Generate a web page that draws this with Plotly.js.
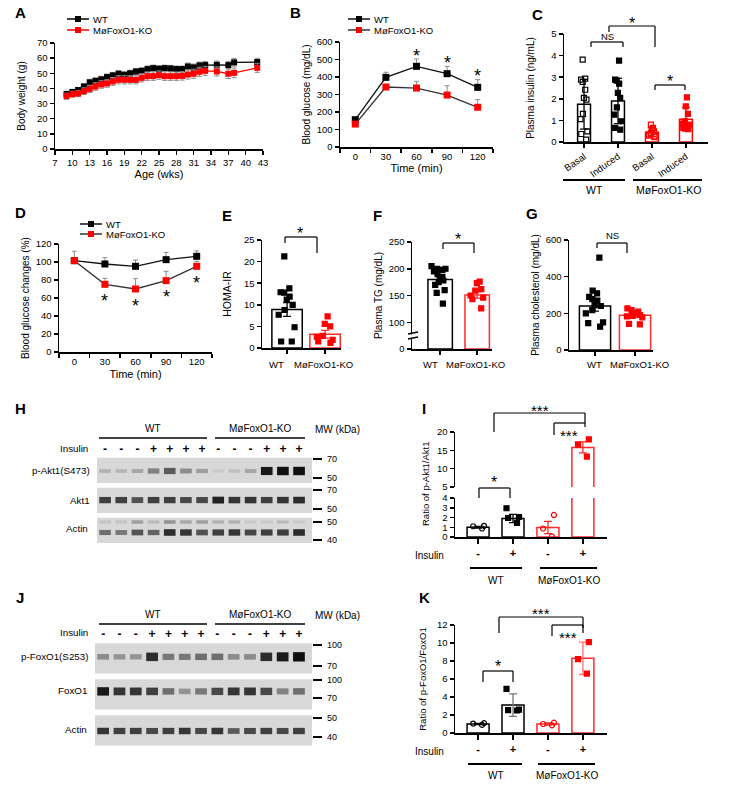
<!DOCTYPE html>
<html><head><meta charset="utf-8">
<script src="https://cdn.plot.ly/plotly-3.0.1.min.js"></script>
<style>html,body{margin:0;padding:0;background:#fff}#chart{width:729px;height:791px}</style>
</head><body><div id="chart"></div>
<script>
// ---------------- DATA ----------------
// A: body weight
const ageWeeks=[9,10,11,12,13,14,15,16,17,18,19,20,21,22,23,24,25,26,27,28,29,30,31,32,33,35,37,38,42];
const bwWT=[36.4,37.7,39,41.3,44,45,46,47.5,48.6,49.7,49,50,51.2,51.6,52.8,53.4,53,53.4,53.2,52.8,52.8,54.5,53.9,55.2,55.4,55.6,55.4,57.2,57.4];
const bwWTErr=[1.5,1.5,1.6,1.8,2,2,2,2,2,2,2,2,2,2,2,2,2,2,2,2,2,2.2,2.2,2.2,2.4,2.5,2.5,2.5,2.5];
const bwKO=[34.9,36.2,36.6,38.2,39.7,41.3,42.6,43.3,44.6,45.7,45.7,45.7,45.7,47,48.1,48.1,48.8,48.1,48.1,48.1,48.3,49.2,49.7,51,51.6,51.2,49.7,50.3,53.6];
const bwKOErr=[2,2,2,2.2,2.4,2.5,2.5,2.5,2.6,2.7,2.7,2.7,2.7,2.7,2.8,2.8,2.8,2.8,2.8,2.8,2.8,3,3,3,3,3,3.2,3.2,3];
// B: glucose tolerance
const timeMin=[0,30,60,90,120];
const gttWT=[156,398,461,419,341];
const gttWTErr=[0,29,42,42,44];
const gttKO=[131,343,337,297,227];
const gttKOErr=[0,10,38,53,44];
const gttStarTimes=[60,90,120];
// D: insulin tolerance
const ittWT=[101.5,97.8,95.2,102.6,106.3];
const ittWTErr=[10.4,7,7,8,6];
const ittKO=[101.5,75.2,70,79.3,95.2];
const ittKOErr=[0,6.7,11.5,10.4,5.5];
const ittStarTimes=[30,60,90,120];
// C: plasma insulin
const insCats=['WT Basal','WT Induced','KO Basal','KO Induced'];
const insTickText=['Basal','Induced','Basal','Induced'];
const insWTBasal=[3.81,2.93,2.89,2.78,2.42,2.04,1.96,1.30,1.06,0.49,0.37,0.11];
const insWTInduced=[3.77,2.89,2.84,2.70,2.27,2.04,1.60,1.27,0.96,0.65,0.57];
const insKOBasal=[0.80,0.65,0.60,0.49,0.42,0.34,0.29,0.29,0.23];
const insKOInduced=[2.07,1.65,1.30,0.96,0.85,0.80,0.65,0.60];
const insMean=[1.75,1.9,0.45,1.05];
const insSD=[1.15,1.05,0.2,0.55];
// E/F/G
const groupCats=['WT','MøFoxO1-KO'];
const homaWT=[21.2,13.8,12.9,12.8,11.9,11.2,10,8.8,7.7,4.8,1.5,1.5];
const homaKO=[7.3,5.6,5,2.8,2.6,1.9,1.5,1.2];
const homaMean=[8.9,3.2];
const homaSEM=[1.6,0.9];
const tgWT=[205,200,200,198,195,190,185,183,178,175,170,160,155,135];
const tgKO=[176,173,162,159,150,146,143,126];
const tgMean=[180,151];
const tgSEM=[5,6];
const tgTickLabels=[0,100,150,200,250];
const tgBreakShift=50; // broken axis: 0..100 squeezed
const cholWT=[504,324,309,290,278,270,245,240,218,200,151,147,127];
const cholKO=[227,218,209,200,190,186,183,178,142,140];
const cholMean=[240,190];
const cholSEM=[28,10];
// I/K ratios
const ratioCats=['WT-','WT+','KO-','KO+'];
const ratioSigns=['-','+','-','+'];
const aktWTm=[0.87,1.15,1.1], aktWTp=[2.95,2.05,1.95,1.45], aktKOm=[2.26,0.87,0.07], aktKOp=[18.0,16.6,13.3];
const aktMean=[1.0,1.9,0.97,15.8], aktSEM=[0.08,0.42,0.63,1.5];
const foxWTm=[0.9,1.1,1.05], foxWTp=[4.9,2.6,2.55,2.5], foxKOm=[0.85,1.15,1.0], foxKOp=[10.1,8.2,6.6];
const foxMean=[1.0,3.1,1.0,8.3], foxSD=[0.08,1.25,0.13,1.8];
// Blots (band intensity 0..1 per lane)
const lanes=[1,2,3,4,5,6,7,8,9,10,11,12,13];
const insulinSigns=['-','-','-','+','+','+','+','-','-','-','+','+','+'];
const bandPAkt=[0.15,0.12,0.2,0.4,0.6,0.35,0.25,0.02,0.08,0.2,0.95,1,1];
const bandAkt=[0.75,0.75,0.65,0.75,0.75,0.7,0.7,0.9,0.8,0.8,0.75,0.8,0.85];
const bandActinH=[0.5,0.45,0.65,0.55,0.85,0.8,0.65,0.75,0.8,0.7,0.75,0.75,0.85];
const bandActinHUpper=[0.05,0.05,0.25,0.1,0.3,0.2,0.25,0.15,0.15,0.02,0.02,0.1,0.02];
const bandPFox=[0.35,0.3,0.3,0.85,0.45,0.45,0.5,0.5,0.35,0.35,0.85,0.95,1];
const bandFox=[0.95,0.8,0.8,0.75,0.5,0.3,0.45,0.7,0.8,0.8,0.7,0.4,0.5];
const bandActinJ=[0.8,0.75,0.75,0.7,0.75,0.8,0.7,0.8,0.6,0.7,0.75,0.7,0.75];

// ---------------- HELPERS ----------------
const W=729,H=791;
const X=p=>p/W, Y=p=>1-p/H;
const dx=(a,b)=>[a/W,b/W], dy=(t,b)=>[1-b/H,1-t/H];
const RED='#ff0000', RED2='#ff2a2a', BLK='#000000', GRY='#8c8c8c';
const FONT='Arial, "Liberation Sans", sans-serif';
const shapes=[], ann=[], traces=[];

function ax(o){return Object.assign({showgrid:false,zeroline:false,showline:true,linecolor:'#000',linewidth:1.5,
  ticks:'outside',ticklen:4,tickwidth:1.5,tickcolor:'#000',tickfont:{size:9.5,family:FONT,color:'#000'},fixedrange:true},o);}
function ttl(t,s,so){const o={text:t,font:{size:s||10,family:FONT,color:'#000'}}; if(so!=null) o.standoff=so; return o;}
function line(x0,y0,x1,y1,w,c){shapes.push({type:'line',xref:'paper',yref:'paper',x0:X(x0),y0:Y(y0),x1:X(x1),y1:Y(y1),line:{color:c||'#000',width:w||1.2}});}
function rect(x0,y0,x1,y1,fill){shapes.push({type:'rect',xref:'paper',yref:'paper',x0:X(x0),y0:Y(y0),x1:X(x1),y1:Y(y1),fillcolor:fill,line:{width:0}});}
function bracket(xl,xr,yt,yl,yr){line(xl,yl,xl,yt);line(xl,yt,xr,yt);line(xr,yt,xr,yr);}
function text(x,y,t,size,anchor,opt){ann.push(Object.assign({xref:'paper',yref:'paper',x:X(x),y:Y(y),text:t,showarrow:false,
  xanchor:anchor||'center',yanchor:'middle',font:{size:size||10,family:FONT,color:'#000'}},opt||{}));}
function star(x,y,t,size){text(x,y,t||'*',size||16,'center',{yshift:-4});}
function legendEntry(x0,y,mcolor,lcolor,label){line(x0,y,x0+22,y,1.5,lcolor);rect(x0+8,y-3,x0+14,y+3,mcolor);text(x0+24,y,label,9.5,'left');}

function lineTrace(x,y,err,errMinus,mcolor,lcolor,xa,ya,msize){
  return {type:'scatter',mode:'lines+markers',x,y,xaxis:xa,yaxis:ya,
    line:{color:lcolor,width:1.3},marker:{symbol:'square',size:msize||6,color:mcolor},
    error_y:{type:'data',array:err,arrayminus:errMinus,symmetric:!errMinus,color:GRY,thickness:1,width:2.5},
    hoverinfo:'skip',cliponaxis:false};
}
function barTrace(cats,vals,err,color,xa,ya,width,errColor){
  return {type:'bar',x:cats,y:vals,xaxis:xa,yaxis:ya,width:width,
    marker:{color:'rgba(255,255,255,0)',line:{color:color,width:1.5}},
    error_y:err?{type:'data',array:err,color:errColor||color,thickness:1.3,width:4}:{visible:false},hoverinfo:'skip'};
}
function dots(cat,vals,xa,ya,symbol,color,width,jit){
  return {type:'box',x:vals.map(()=>cat),y:vals,xaxis:xa,yaxis:ya,boxpoints:'all',jitter:jit==null?0.8:jit,pointpos:0,width:width,
    fillcolor:'rgba(0,0,0,0)',line:{color:'rgba(0,0,0,0)',width:0},
    marker:{symbol:symbol,size:5,color:color,line:{color:color,width:1.2}},hoverinfo:'skip',showlegend:false};
}

// ---------------- A ----------------
traces.push(lineTrace(ageWeeks,bwWT,bwWTErr,null,BLK,BLK,'x','y',6));
traces.push(lineTrace(ageWeeks,bwKO,bwKOErr,null,RED,RED,'x','y',6));
legendEntry(67,19,BLK,BLK,'WT');
legendEntry(67,30,RED,RED,'MøFoxO1-KO');
// ---------------- B ----------------
traces.push(lineTrace(timeMin,gttWT,gttWTErr,timeMin.map(()=>0),BLK,'#111','x2','y2',7));
traces.push(lineTrace(timeMin,gttKO,gttKOErr,timeMin.map(()=>0),RED,'#333','x2','y2',7));
legendEntry(348,19,BLK,'#111','WT');
legendEntry(348,30,RED,'#333','MøFoxO1-KO');
gttStarTimes.forEach(t=>{const i=timeMin.indexOf(t);
  ann.push({xref:'x2',yref:'y2',x:t,y:gttWT[i]+gttWTErr[i]+42,text:'*',showarrow:false,yshift:-4,font:{size:18,family:FONT,color:'#000'}});});
// ---------------- D ----------------
traces.push(lineTrace(timeMin,ittWT,ittWTErr,timeMin.map(()=>0),BLK,'#111','x4','y4',7));
traces.push(lineTrace(timeMin,ittKO,ittKOErr,timeMin.map(()=>0),RED,'#333','x4','y4',7));
legendEntry(80,224,BLK,'#111','WT');
legendEntry(80,234,RED,'#333','MøFoxO1-KO');
ittStarTimes.forEach(t=>{const i=timeMin.indexOf(t);
  ann.push({xref:'x4',yref:'y4',x:t,y:ittKO[i]-14,text:'*',showarrow:false,yshift:-4,font:{size:18,family:FONT,color:'#000'}});});
// ---------------- C ----------------
traces.push(barTrace(insCats.slice(0,2),insMean.slice(0,2),insSD.slice(0,2),BLK,'x3','y3',0.38));
traces.push(barTrace(insCats.slice(2),insMean.slice(2),insSD.slice(2),RED,'x3','y3',0.38));
traces.push(dots(insCats[0],insWTBasal,'x3','y3','square-open',BLK,0.34));
traces.push(dots(insCats[1],insWTInduced,'x3','y3','square',BLK,0.34));
traces.push(dots(insCats[2],insKOBasal,'x3','y3','square-open',RED,0.34));
traces.push(dots(insCats[3],insKOInduced,'x3','y3','square',RED,0.34));
bracket(591,623,42,47,47); text(607,36,'NS',9.5);
bracket(609,655,26,32,47); star(632,20);
bracket(655,685,85,90,90); star(670,78);
line(563,180,625,180,2); line(633,180,702,180,2);
text(594,190,'WT',10.5); text(668,190,'MøFoxO1-KO',10.5);
// ---------------- E ----------------
traces.push(barTrace([groupCats[0]],[homaMean[0]],[homaSEM[0]],BLK,'x5','y5',0.8));
traces.push(barTrace([groupCats[1]],[homaMean[1]],[homaSEM[1]],RED2,'x5','y5',0.8));
traces.push(dots(groupCats[0],homaWT,'x5','y5','square',BLK,0.7));
traces.push(dots(groupCats[1],homaKO,'x5','y5','square',RED,0.7));
bracket(285,317,237,243,253); star(300,229);
text(276,364,groupCats[0],9.5); text(323,364,groupCats[1],9.5);
// ---------------- F (broken axis) ----------------
const tgY=v=>v-tgBreakShift;
traces.push(barTrace([groupCats[0]],[tgY(tgMean[0])],[tgSEM[0]],BLK,'x6','y6',0.66));
traces.push(barTrace([groupCats[1]],[tgY(tgMean[1])],[tgSEM[1]],RED2,'x6','y6',0.66));
traces.push(dots(groupCats[0],tgWT.map(tgY),'x6','y6','square',BLK,0.6));
traces.push(dots(groupCats[1],tgKO.map(tgY),'x6','y6','square',RED,0.6));
bracket(443,474,243,249,253); star(458,235);
rect(409,334.5,416,337.5,'#fff');
line(408,334,418,332,1.3); line(408,339,418,337,1.3);
text(430,364,groupCats[0],9.5); text(475,364,groupCats[1],9.5);
// ---------------- G ----------------
traces.push(barTrace([groupCats[0]],[cholMean[0]],[cholSEM[0]],BLK,'x7','y7',0.78));
traces.push(barTrace([groupCats[1]],[cholMean[1]],[cholSEM[1]],RED2,'x7','y7',0.78));
traces.push(dots(groupCats[0],cholWT,'x7','y7','square',BLK,0.7));
traces.push(dots(groupCats[1],cholKO,'x7','y7','square',RED,0.7));
bracket(597,627,243,248,253); text(612,235,'NS',9.5);
text(594,364,groupCats[0],9.5); text(639,364,groupCats[1],9.5);
// ---------------- H / J blots ----------------
const gray=v=>{const g=Math.round(205-190*v);return 'rgb('+g+','+g+','+g+')';};
function blot(xa,ya,rows){
  rows.forEach((r,i)=>{
    if(r.bg) traces.push({type:'bar',x:[7.15],y:[0.84],base:[i+0.06],width:[13.3],xaxis:xa,yaxis:ya,marker:{color:'#d8d8d8'},hoverinfo:'skip'});
    const h=r.vals.map(v=>r.h0+r.h1*v);
    traces.push({type:'bar',x:lanes,y:h,base:h.map(hh=>i+r.pos-hh/2),width:0.72,xaxis:xa,yaxis:ya,
      marker:{color:r.vals.map(gray)},hoverinfo:'skip'});
  });
}
blot('x8','y8',[
  {vals:bandPAkt,pos:0.5,h0:0.1,h1:0.18,bg:true},
  {vals:bandAkt,pos:0.47,h0:0.12,h1:0.12,bg:true},
  {vals:bandActinH,pos:0.55,h0:0.1,h1:0.14,bg:true}]);
blot('x8','y8',[{vals:[],pos:0,h0:0,h1:0},{vals:[],pos:0,h0:0,h1:0},{vals:bandActinHUpper,pos:0.2,h0:0.1,h1:0.06}]);
blot('x9','y9',[
  {vals:bandPFox,pos:0.44,h0:0.1,h1:0.16,bg:true},
  {vals:bandFox,pos:0.4,h0:0.12,h1:0.12,bg:true},
  {vals:bandActinJ,pos:0.5,h0:0.1,h1:0.1,bg:true}]);
function blotText(y0,rowsLab,mw){
  text(153,y0,'WT',10); text(260,y0,'MøFoxO1-KO',10); text(313,y0+1,'MW (kDa)',10,'left');
  line(99,y0+10,207,y0+10,1.5); line(215,y0+10,305,y0+10,1.5);
  rowsLab.forEach(r=>text(r[2],r[1],r[0],9.8,'right'));
  mw.forEach(m=>{line(313,m[1],322,m[1],2); text(325,m[1],m[0],9,'left');});
}
blotText(428,[['p-Akt1(S473)',470,92],['Akt1',500,92],['Actin',528,90],['Insulin',448,90]],
  [['70',459],['50',478],['70',490],['50',509],['50',522],['40',540]]);
blotText(614,[['p-FoxO1(S253)',656,91],['FoxO1',690,89],['Actin',729,89],['Insulin',632,90]],
  [['100',645],['70',666],['100',680],['70',698],['50',718],['40',737]]);
// ---------------- I (broken) ----------------
traces.push(barTrace(ratioCats.slice(0,2),aktMean.slice(0,2),aktSEM.slice(0,2),BLK,'x10','y10',0.63));
traces.push(barTrace([ratioCats[2]],[aktMean[2]],[aktSEM[2]],RED2,'x10','y10',0.63));
traces.push(barTrace([ratioCats[3]],[aktMean[3]],null,RED2,'x10','y10',0.63));
traces.push(barTrace([ratioCats[3]],[aktMean[3]],[aktSEM[3]],RED2,'x10','y11',0.63));
traces.push(dots(ratioCats[0],aktWTm,'x10','y10','circle-open',BLK,0.55));
traces.push(dots(ratioCats[1],aktWTp,'x10','y10','square',BLK,0.55));
traces.push(dots(ratioCats[2],aktKOm,'x10','y10','circle-open',RED,0.55));
traces.push(dots(ratioCats[3],aktKOp,'x10','y11','square',RED,0.55));
bracket(479,510,488,498,498); star(494,478);
bracket(554,585,423,435,427); star(569,431,'***',15);
bracket(494,585,413,432,423); star(540,406,'***',15);
line(470,568,522,568,2); line(540,568,597,568,2);
text(496,580,'WT',10); text(569,580,'MøFoxO1-KO',10);
text(446,555,'Insulin',10,'right');
text(425,484,'Ratio of p-Akt1/Akt1',9.5,'center',{textangle:-90});
// ---------------- K ----------------
traces.push(barTrace(ratioCats.slice(0,1),foxMean.slice(0,1),foxSD.slice(0,1),BLK,'x11','y12',0.63));
traces.push(barTrace([ratioCats[1]],[foxMean[1]],[foxSD[1]],BLK,'x11','y12',0.63,'#777'));
traces.push(barTrace([ratioCats[2]],[foxMean[2]],[foxSD[2]],RED2,'x11','y12',0.63));
traces.push(barTrace([ratioCats[3]],[foxMean[3]],[foxSD[3]],RED2,'x11','y12',0.63,'#ff7070'));
traces.push(dots(ratioCats[0],foxWTm,'x11','y12','circle-open',BLK,0.55));
traces.push(dots(ratioCats[1],foxWTp,'x11','y12','square',BLK,0.55));
traces.push(dots(ratioCats[2],foxKOm,'x11','y12','circle-open',RED,0.55));
traces.push(dots(ratioCats[3],foxKOp,'x11','y12','square',RED,0.55));
bracket(483,513,671,682,682); star(498,662);
bracket(552,583,625,636,633); star(568,633,'***',15);
bracket(499,583,617,633,628); star(541,609,'***',15);
line(468,764,522,764,2); line(538,764,595,764,2);
text(496,775,'WT',10); text(567,775,'MøFoxO1-KO',10);
text(446,751,'Insulin',10,'right');
// ---------------- panel letters ----------------
[['A',20,13],['B',295,13],['C',537,14],['D',20,212],['E',227,215],['F',377,215],['G',532,213],
 ['H',20,408],['I',424,408],['J',20,597],['K',424,597]].forEach(l=>text(l[1],l[2],'<b>'+l[0]+'</b>',15));

// ---------------- LAYOUT ----------------
const signTxt=s=>'<b>'+s+'</b>';
const layout={width:W,height:H,margin:{l:0,r:0,t:0,b:0},paper_bgcolor:'#fff',plot_bgcolor:'rgba(0,0,0,0)',
  showlegend:false,barmode:'overlay',boxmode:'overlay',font:{family:FONT,color:'#000'},
  xaxis:ax({domain:dx(55,263),anchor:'y',range:[7,43],tick0:7,dtick:3,title:ttl('Age (wks)',11,2)}),
  yaxis:ax({domain:dy(43,149),anchor:'x',range:[0,70],dtick:10,title:ttl('Body weight (g)',10)}),
  xaxis2:ax({domain:dx(340,493),anchor:'y2',range:[-15,135],tickmode:'array',tickvals:timeMin,ticks:'',
    minor:{tickmode:'array',tickvals:[-15,15,45,75,105,135],ticks:'outside',ticklen:4,tickwidth:1.5,tickcolor:'#000'},
    title:ttl('Time (min)',11,2)}),
  yaxis2:ax({domain:dy(42,147),anchor:'x2',range:[0,600],dtick:100,title:ttl('Blood glucose (mg/dL)',10)}),
  xaxis3:ax({domain:dx(564,708),anchor:'y3',type:'category',categoryorder:'array',categoryarray:insCats,range:[-0.59,3.65],
    tickmode:'array',tickvals:insCats,ticktext:insTickText,tickangle:-35}),
  yaxis3:ax({domain:dy(34,142),anchor:'x3',range:[0,5],dtick:1,title:ttl('Plasma insulin (ng/mL)',10)}),
  xaxis4:ax({domain:dx(59,212),anchor:'y4',range:[-15,135],tickmode:'array',tickvals:timeMin,ticks:'',
    minor:{tickmode:'array',tickvals:[-15,15,45,75,105,135],ticks:'outside',ticklen:4,tickwidth:1.5,tickcolor:'#000'},
    title:ttl('Time (min)',11,4)}),
  yaxis4:ax({domain:dy(244,352),anchor:'x4',range:[0,120],dtick:20,title:ttl('Blood glucose changes (%)',10)}),
  xaxis5:ax({domain:dx(262,341),anchor:'y5',type:'category',categoryorder:'array',categoryarray:groupCats,range:[-0.66,1.42],showticklabels:false}),
  yaxis5:ax({domain:dy(240,348),anchor:'x5',range:[0,25],dtick:5,title:ttl('HOMA-IR',10.5)}),
  xaxis6:ax({domain:dx(412,492),anchor:'y6',type:'category',categoryorder:'array',categoryarray:groupCats,range:[-0.76,1.4],showticklabels:false}),
  yaxis6:ax({domain:dy(242,349),anchor:'x6',range:[0,200],tickmode:'array',tickvals:tgTickLabels.map(v=>v===0?0:tgY(v)),
    ticktext:tgTickLabels.map(String),title:ttl('Plasma TG (mg/dL)',10)}),
  xaxis7:ax({domain:dx(569,653),anchor:'y7',type:'category',categoryorder:'array',categoryarray:groupCats,range:[-0.65,1.45],showticklabels:false}),
  yaxis7:ax({domain:dy(240,350),anchor:'x7',range:[0,600],dtick:200,title:ttl('Plasma cholesterol (mg/dL)',10)}),
  xaxis8:ax({domain:dx(97,312),anchor:'y8',range:[0.5,13.8],side:'top',showline:false,ticks:'',tickmode:'array',tickvals:lanes,
    ticktext:insulinSigns.map(signTxt),tickfont:{size:12,family:FONT,color:'#000'}}),
  yaxis8:ax({domain:dy(456,546),anchor:'x8',range:[3,0],visible:false}),
  xaxis9:ax({domain:dx(95,312),anchor:'y9',range:[0.5,13.8],side:'top',showline:false,ticks:'',tickmode:'array',tickvals:lanes,
    ticktext:insulinSigns.map(signTxt),tickfont:{size:12,family:FONT,color:'#000'}}),
  yaxis9:ax({domain:dy(641,749),anchor:'x9',range:[3,0],visible:false}),
  xaxis10:ax({domain:dx(455,607),anchor:'y10',type:'category',categoryorder:'array',categoryarray:ratioCats,range:[-0.66,3.69],
    tickmode:'array',tickvals:ratioCats,ticktext:ratioSigns.map(signTxt),ticklen:5,tickangle:0,tickfont:{size:11,family:FONT,color:'#000'}}),
  yaxis10:ax({domain:dy(498,537),anchor:'x10',range:[0,4],dtick:1}),
  yaxis11:ax({domain:dy(432,487),anchor:'x10',range:[5,20],dtick:5}),
  xaxis11:ax({domain:dx(455,607),anchor:'y12',type:'category',categoryorder:'array',categoryarray:ratioCats,range:[-0.66,3.69],
    tickmode:'array',tickvals:ratioCats,ticktext:ratioSigns.map(signTxt),ticklen:5,tickangle:0,tickfont:{size:11,family:FONT,color:'#000'}}),
  yaxis12:ax({domain:dy(625,733),anchor:'x11',range:[0,12],dtick:2,title:ttl('Ratio of p-FoxO1/FoxO1',9.5)}),
  shapes:shapes,annotations:ann};
Plotly.newPlot('chart',traces,layout,{staticPlot:true,displayModeBar:false});
</script></body></html>
